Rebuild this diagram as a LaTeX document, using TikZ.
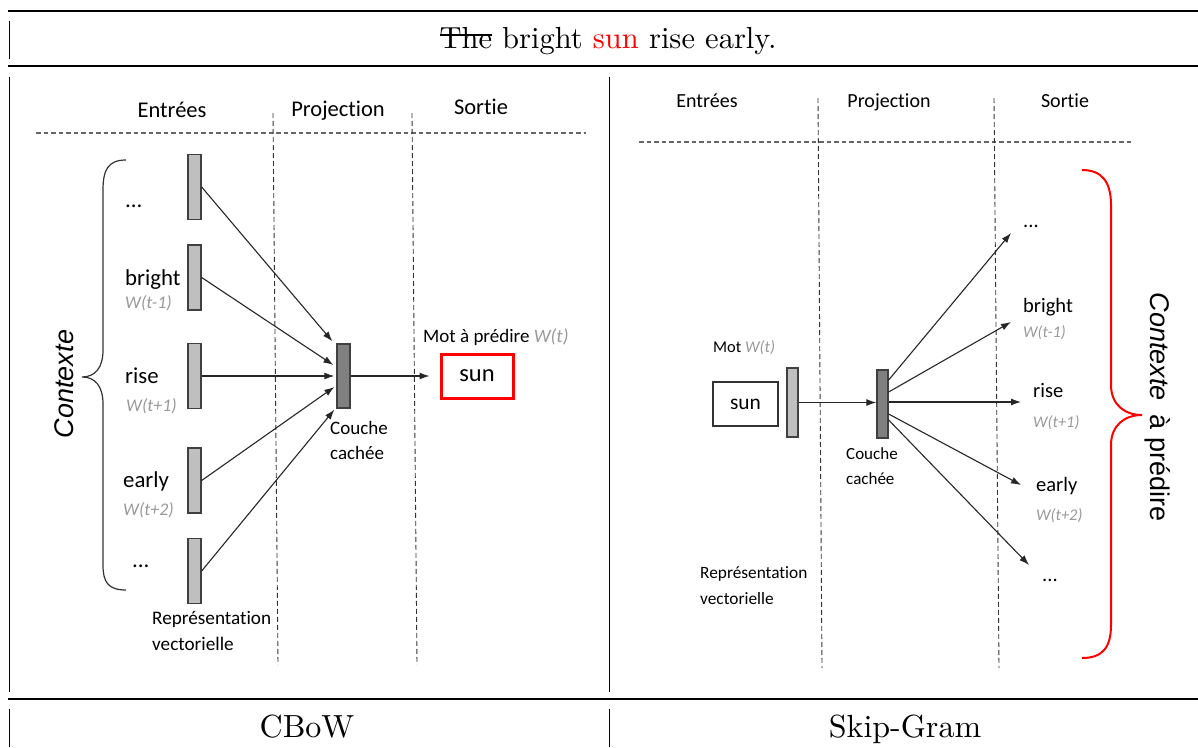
\documentclass[tikz,border=0pt]{standalone}
\usepackage{fontspec}
\usetikzlibrary{arrows.meta}

\newfontfamily\calib{Carlito}[Ligatures=NoCommon]
\newfontfamily\arialf{Liberation Sans}
\newfontfamily\tabrm{lmroman10-regular}[Extension=.otf]
\newcommand{\barre}[1]{\setbox0\hbox{#1}\rlap{\rule[.95ex]{\wd0}{1.1pt}}\box0\relax}

\begin{document}
\begin{tikzpicture}[x=1pt, y=-1pt,
    %Option for nice arrows
    >={Latex[length=10pt,width=7pt]},
    tabrule/.style={line width=1.8pt},
    tabsep/.style={line width=0.8pt},
    headline/.style={black!60, line width=1.3pt, dash pattern=on 4.5pt off 3pt},
    colline/.style={black!80, line width=0.9pt, dash pattern=on 5pt off 3pt},
    link/.style={->, black!85, line width=1.1pt},
    vec/.style={draw=black!75, line width=1.3pt, fill=black!25, inner sep=0pt,
        minimum width=13pt, minimum height=65pt},
    hid/.style={vec, fill=black!50},
    head/.style={anchor=base, inner sep=0pt, font=\calib\fontsize{#1}{#1}\selectfont},
    word/.style={anchor=base west, inner sep=0pt, font=\calib\fontsize{#1}{#1}\selectfont},
    wpos/.style={anchor=base west, inner sep=0pt, text=black!40,
        font=\calib\itshape\fontsize{#1}{#1}\selectfont},
    note/.style 2 args={anchor=north west, inner sep=0pt, align=left,
        font=\calib\fontsize{#1}{#2}\selectfont},
    cell/.style={anchor=base, inner sep=0pt, font=\tabrm\fontsize{#1}{#1}\selectfont},
]
    \useasboundingbox (0,0) rectangle (1198,747);

    % Table
    \draw[tabrule] (8,11) -- (1198,11);
    \draw[tabsep] (9,21) -- (9,59);
    \draw[tabrule] (8,66) -- (1198,66);
    \draw[tabsep] (9,77) -- (9,692) (609,77) -- (609,692);
    \draw[tabrule] (8,699) -- (1198,699);
    \draw[tabsep] (9,709) -- (9,747) (609,709) -- (609,747);

    \node[cell=30.5] (phrase) at (608,48) {\barre{The} bright \textcolor{red}{sun} rise early.};
    \node[cell=32] (cbow) at (307,737) {CBoW};
    \node[cell=32] (skip) at (905,737) {Skip-Gram};

    %CBoW
    \node[head=22.5] (entL) at (172,117) {Entrées};
    \node[head=22.5] (projL) at (338,116) {Projection};
    \node[head=22.5] (sortL) at (481,114) {Sortie};
    \draw[headline] (36,133) -- (586,133);
    \draw[colline] (273,113) -- (278,665);
    \draw[colline] (412,113) -- (417,665);

    \foreach \i/\y in {1/187, 2/277.5, 3/376, 4/480.5, 5/571}
        \node[vec] (inL\i) at (194.5,\y) {};
    \node[hid, minimum height=64pt] (hidL) at (343.5,376) {};

    \node[word=22.8] (dL1) at (125,207) {...};
    \node[word=22.8] (wL2) at (125,285) {bright};
    \node[wpos=17.8] (tL2) at (125,308) {W(t-1)};
    \node[word=22.8] (wL3) at (125,383) {rise};
    \node[wpos=17.8] (tL3) at (126,411) {W(t+1)};
    \node[word=22.8] (wL4) at (123,487) {early};
    \node[wpos=17.8] (tL4) at (123,515) {W(t+2)};
    \node[word=22.8] (dL5) at (132,567) {...};

    \node[rotate=90, inner sep=0pt, font=\arialf\itshape\fontsize{27}{27}\selectfont]
        (ctxL) at (64,384) {Contexte};
    \draw[black!80, line width=1.2pt] (126,160) .. controls (108,160) and (103,170) .. (103,190)
        -- (103,350) .. controls (103,368) and (95,377) .. (82,377)
        .. controls (95,377) and (103,386) .. (103,404)
        -- (103,565) .. controls (103,582) and (108,590) .. (126,590);

    \node[word=19] (motL) at (423,342) {Mot à prédire {\itshape\color{black!40}W(t)}};
    \node[draw=red, line width=3pt, minimum width=72pt, minimum height=44pt,
        font=\calib\fontsize{24.5}{24.5}\selectfont] (sunL) at (477,376) {sun};
    \node[note={19}{25.5}] (coucheL) at (330,421) {Couche\\cachée};
    \node[note={19.2}{26}] (repL) at (152,611) {Représentation\\vectorielle};

    \draw[link] (inL1.east) -- ([xshift=-4pt,yshift=2pt]hidL.north west);
    \draw[link] (inL2.east) -- ([xshift=-3pt,yshift=11pt]hidL.west);
    \draw[link] (inL3.east) -- ([xshift=-2pt]hidL.west);
    \draw[link] (inL4.east) -- ([xshift=-2pt,yshift=-11pt]hidL.west);
    \draw[link] (inL5.east) -- ([xshift=-2pt,yshift=-1pt]hidL.south west);
    \draw[link] (hidL.east) -- ([xshift=-10pt]sunL.west);

    %Skip-Gram
    \node[head=20] (entR) at (707,107) {Entrées};
    \node[head=20] (projR) at (889,107) {Projection};
    \node[head=20] (sortR) at (1065,107) {Sortie};
    \draw[headline] (639,142) -- (1133,142);
    \draw[colline] (818,98) -- (822,668);
    \draw[colline] (994,98) -- (999,668);

    \node[vec, minimum width=11pt, minimum height=69pt] (inR) at (792.5,402.5) {};
    \node[hid, minimum width=11pt, minimum height=68pt] (hidR) at (882.5,404) {};

    \node[word=16.4] (motR) at (713,352) {Mot {\itshape\color{black!40}W(t)}};
    \node[draw=black!80, line width=1.2pt, minimum width=65pt, minimum height=44pt,
        font=\calib\fontsize{21.4}{21.4}\selectfont] (sunR) at (745.5,404) {sun};
    \node[note={17}{25}] (coucheR) at (846,447) {Couche\\cachée};
    \node[note={17.3}{26}] (repR) at (700,566) {Représentation\\vectorielle};

    \node[word=20.5] (dR1) at (1023,227) {...};
    \node[word=20.5] (wR2) at (1023,312) {bright};
    \node[wpos=16.3] (tR2) at (1023,337) {W(t-1)};
    \node[word=20.5] (wR3) at (1033,397) {rise};
    \node[wpos=16.3] (tR3) at (1033,427) {W(t+1)};
    \node[word=20.5] (wR4) at (1036,491) {early};
    \node[wpos=16.3] (tR4) at (1036,520) {W(t+2)};
    \node[word=20.5] (dR5) at (1042,581) {...};

    % arrow ends in front of the predicted words
    \coordinate (toR1) at (1011,233);
    \coordinate (toR2) at (1011,322);
    \coordinate (toR3) at (1021,402);
    \coordinate (toR4) at (1021,485);
    \coordinate (toR5) at (1029,565);

    \draw[link] (inR.east) -- (inR.east -| hidR.west);
    \draw[link] ([yshift=24pt]hidR.east) -- (toR1);
    \draw[link] ([yshift=12pt]hidR.east) -- (toR2);
    \draw[link] ([yshift=2pt]hidR.east) -- (toR3);
    \draw[link] ([yshift=-10pt]hidR.east) -- (toR4);
    \draw[link] ([yshift=-16pt]hidR.east) -- (toR5);

    \draw[red, line width=2pt] (1082,170) .. controls (1102,170) and (1111,182) .. (1111,205)
        -- (1111,385) .. controls (1111,405) and (1125,415) .. (1142,415)
        .. controls (1125,415) and (1111,425) .. (1111,445)
        -- (1111,625) .. controls (1111,648) and (1102,658) .. (1082,658);
    \node[rotate=-90, inner sep=0pt, font=\arialf\fontsize{27}{27}\selectfont]
        (ctxR) at (1158,407) {\textit{Contexte}\hspace{0.25em} à prédire};
\end{tikzpicture}
\end{document}
